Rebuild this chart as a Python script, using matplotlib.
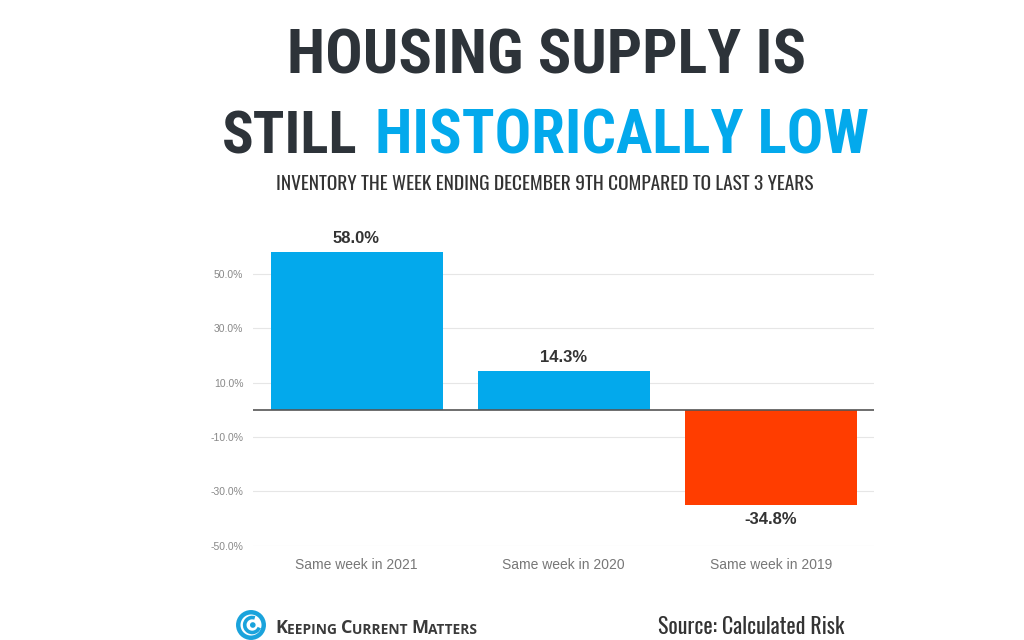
import matplotlib.pyplot as plt
from matplotlib.patches import Circle, Arc
from matplotlib import font_manager

categories = ['Same week in 2021', 'Same week in 2020', 'Same week in 2019']
values = [58.0, 14.3, -34.8]
yticks = [50, 30, 10, -10, -30, -50]

BLUE = '#03a9ec'
RED = '#ff3d00'
DARK = '#2d3339'
W, H = 1024, 640


def pick_font(weight):
    # prefer a narrow family for the poster-style headings
    wanted = ['Oswald', 'Roboto Condensed', 'Open Sans Condensed', 'Liberation Sans Narrow',
              'DejaVu Sans Condensed']
    fonts = font_manager.fontManager.ttflist
    for name in wanted:
        for f in fonts:
            full = f.name + ' ' + f.fname
            if (name in full or name.replace(' ', '') in full) and \
                    (f.weight in ('bold', 700) if weight == 'bold' else f.weight in ('normal', 'regular', 400)):
                return font_manager.FontProperties(fname=f.fname)
    for f in fonts:
        if f.stretch in ('condensed', 'semi-condensed') and 'Sans' in f.name:
            if (weight == 'bold') == (f.weight in ('bold', 700)):
                return font_manager.FontProperties(fname=f.fname)
    return font_manager.FontProperties(family='DejaVu Sans', weight=weight)


fp_bold = pick_font('bold')
fp_reg = pick_font('normal')

fig = plt.figure(figsize=(W / 100, H / 100), dpi=100)
ax = fig.add_axes([0.247, 0.147, 0.607, 0.468])

colors = [BLUE if v >= 0 else RED for v in values]
x = range(len(values))
ax.bar(x, values, width=0.83, color=colors, zorder=2)
for i, v in enumerate(values):
    if v >= 0:
        ax.text(i, v + 2, f'{v:.1f}%', ha='center', va='bottom', family='Liberation Sans',
                fontsize=12, fontweight='bold', color='#333333')
    else:
        ax.text(i, v - 2.8, f'{v:.1f}%', ha='center', va='top', family='Liberation Sans',
                fontsize=12, fontweight='bold', color='#333333')

ax.set_xlim(-0.5, 2.5)
ax.set_ylim(-50, 60)
ax.set_yticks(yticks)
ax.set_yticklabels([f'{t:.1f}%' for t in yticks], fontsize=7.5, color='#888888',
                   family='Liberation Sans')
ax.set_xticks(list(x))
ax.set_xticklabels(categories, fontsize=10, color='#777777', family='Liberation Sans')
ax.tick_params(length=0)
ax.tick_params(axis='y', pad=7)
ax.tick_params(axis='x', pad=9)
ax.grid(axis='y', color='#e6e6e6', linewidth=0.8, zorder=0)
ax.axhline(0, color='#555555', linewidth=1.2, zorder=3)
for s in ax.spines.values():
    s.set_visible(False)


def put(txt, left, right, base, fp, color, size=40):
    t = fig.text(left / W, 1 - base / H, txt, ha='left', va='baseline',
                 fontproperties=fp.copy(), fontsize=size, color=color)
    return t, right - left


headers = [
    put('HOUSING SUPPLY IS', 287, 805, 74, fp_bold, DARK),
    put('STILL', 222, 357, 154, fp_bold, DARK),
    put('HISTORICALLY LOW', 375, 868, 154, fp_bold, BLUE),
    put('INVENTORY THE WEEK ENDING DECEMBER 9TH COMPARED TO LAST 3 YEARS', 276, 815, 190,
        fp_reg, '#333333', 14),
    put('Source: Calculated Risk', 658, 845, 634, fp_reg, '#333333', 16),
]

# small caps brand name
parts = [('K', 12.5), ('EEPING ', 9.5), ('C', 12.5), ('URRENT ', 9.5), ('M', 12.5), ('ATTERS', 9.5)]
brand = []
prev = fig.text(275 / W, 1 - 633 / H, parts[0][0], ha='left', va='baseline',
                family='Open Sans', fontweight='bold', fontsize=parts[0][1], color='#3a3a3a')
brand.append(prev)
for txt, size in parts[1:]:
    prev = ax.annotate(txt, xy=(1, 0), xycoords=prev, ha='left', va='bottom',
                       family='Open Sans', fontweight='bold', fontsize=size, color='#3a3a3a',
                       annotation_clip=False)
    brand.append(prev)

# scale the heading sizes so each one spans the same width as in the poster
fig.canvas.draw()
r = fig.canvas.get_renderer()
for t, target in headers:
    w = t.get_window_extent(r).width
    t.set_fontsize(t.get_fontsize() * target / w)
bw = brand[-1].get_window_extent(r).x1 - brand[0].get_window_extent(r).x0
k = (478 - 275) / bw
for t in brand:
    t.set_fontsize(t.get_fontsize() * k)

# logo
lax = fig.add_axes([236 / W, 1 - 640 / H, 30 / W, 30 / H])
lax.set_xlim(-1, 1)
lax.set_ylim(-1, 1)
lax.set_aspect('equal')
lax.axis('off')
lax.add_patch(Circle((0, 0), 0.85, fill=False, edgecolor='#1aa3dc', linewidth=3.2))
lax.add_patch(Arc((0.08, 0), 1.0, 1.0, theta1=70, theta2=340, edgecolor='#1aa3dc', linewidth=2.6))
lax.add_patch(Circle((0.12, 0), 0.14, color='#1aa3dc'))

fig.savefig('out.png', dpi=100)
